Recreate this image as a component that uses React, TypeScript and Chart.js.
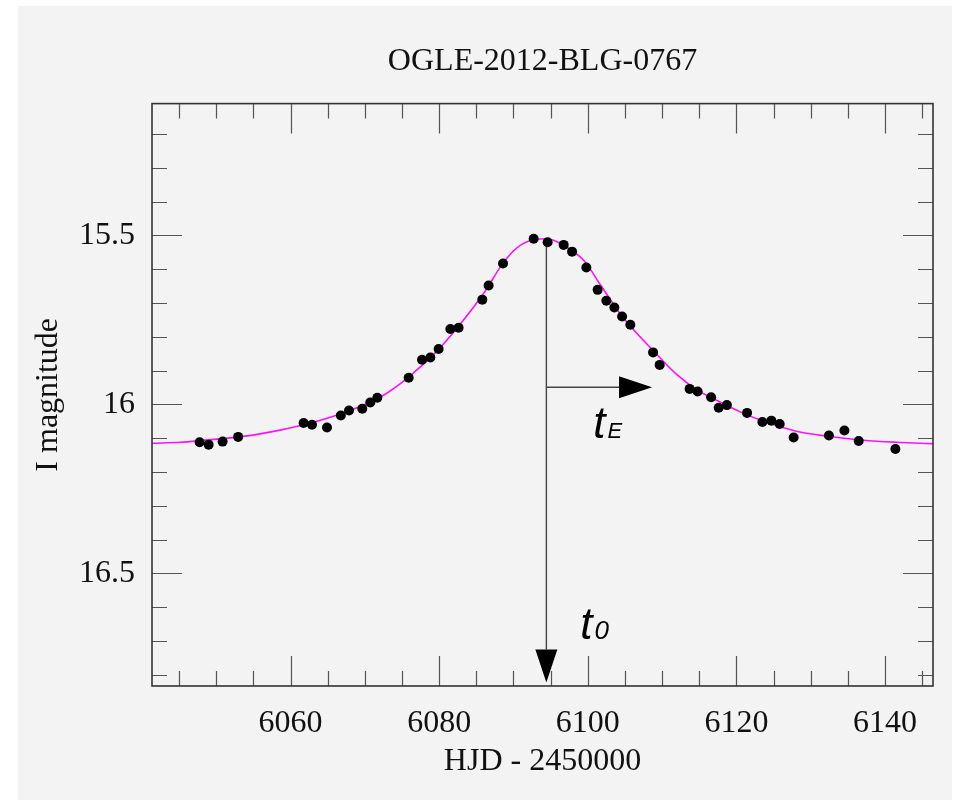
import { useEffect, useRef } from 'react';
import { Chart, registerables } from 'chart.js';

Chart.register(...registerables);

// Texts
const TITLE = 'OGLE-2012-BLG-0767';
const X_TITLE = 'HJD - 2450000';
const Y_TITLE = 'I magnitude';

// Axis ranges and ticks
const X_MIN = 6041.36;
const X_MAX = 6146.46;
const Y_MIN = 15.11;
const Y_MAX = 16.833;
const X_LABEL_TICKS = [6060, 6080, 6100, 6120, 6140];
const Y_LABEL_TICKS = [15.5, 16, 16.5];
const X_MINOR_STEP = 5;
const X_MAJOR_EVERY = 4; // every 4th minor tick is a major one (20 days)
const Y_MINOR_STEP = 0.1;
const Y_MAJOR_EVERY = 5; // 0.5 mag

// Photometry
const OBS_HJD = [
  6047.77, 6048.98, 6050.86, 6052.95, 6061.76, 6062.89, 6064.91, 6066.77,
  6067.87, 6069.66, 6070.74, 6071.68, 6075.9, 6077.7, 6078.82, 6079.93,
  6081.51, 6082.62, 6085.81, 6086.66, 6088.6, 6092.72, 6094.6, 6096.76,
  6097.89, 6099.81, 6101.33, 6102.5, 6103.58, 6104.62, 6105.73, 6108.79,
  6109.68, 6113.71, 6114.79, 6116.6, 6117.62, 6118.72, 6121.44, 6123.5,
  6124.71, 6125.83, 6127.71, 6132.45, 6134.54, 6136.46, 6141.4,
];
const OBS_MAG = [
  16.112, 16.119, 16.11, 16.096, 16.055, 16.06, 16.068, 16.033,
  16.018, 16.013, 15.994, 15.98, 15.921, 15.868, 15.861, 15.836,
  15.777, 15.773, 15.69, 15.648, 15.583, 15.51, 15.52, 15.528,
  15.548, 15.595, 15.661, 15.693, 15.713, 15.74, 15.764, 15.846,
  15.883, 15.954, 15.962, 15.979, 16.01, 16.002, 16.025, 16.052,
  16.048, 16.058, 16.098, 16.092, 16.077, 16.108, 16.132,
];

// Model light curve
const MODEL_HJD = [
  6041.36, 6045.2, 6047.9, 6054.2, 6058.6, 6063.1, 6067.5, 6072.1,
  6075.9, 6079.9, 6082.6, 6086.0, 6088.6, 6090.5, 6092.7, 6094.5,
  6096.8, 6099.5, 6101.7, 6104.4, 6108.9, 6112.0, 6114.7, 6117.9,
  6120.5, 6123.7, 6128.2, 6132.7, 6137.1, 6141.6, 6146.46,
];
const MODEL_MAG = [
  16.115, 16.112, 16.107, 16.093, 16.076, 16.053, 16.022, 15.978,
  15.919, 15.838, 15.769, 15.671, 15.582, 15.536, 15.513, 15.51,
  15.53, 15.575, 15.646, 15.733, 15.843, 15.912, 15.957, 15.994,
  16.022, 16.05, 16.08, 16.095, 16.106, 16.112, 16.116,
];

// Event parameters shown by the arrows
const T0 = 6094.43;
const TE = 14.22;
const PEAK_MAG = 15.513;
const T0_ARROW_END_MAG = 16.823;
const TE_ARROW_MAG = 15.949;
const TE_LABEL_AT = { x: 6100.75, y: 16.098 };
const T0_LABEL_AT = { x: 6099.0, y: 16.695 };

const SERIF = '"Liberation Serif", "Times New Roman", serif';
const SANS = '"Liberation Sans", Arial, sans-serif';

// Title centred over the plot box
const plotTitle = {
  id: 'plotTitle',
  afterDraw(chart: any) {
    const { ctx, chartArea: a } = chart;
    ctx.save();
    ctx.fillStyle = '#111';
    ctx.font = `32px ${SERIF}`;
    ctx.textAlign = 'center';
    ctx.textBaseline = 'middle';
    ctx.fillText(TITLE, (a.left + a.right) / 2, 62);
    ctx.restore();
  },
};

const frameAndTicks = {
  id: 'frameAndTicks',
  afterDatasetsDraw(chart: any) {
    const { ctx, chartArea: a, scales } = chart;
    const xs = scales.x;
    const ys = scales.y;
    ctx.save();
    ctx.strokeStyle = '#555';
    ctx.lineWidth = 1.2;
    ctx.beginPath();
    const kx0 = Math.ceil(X_MIN / X_MINOR_STEP - 1e-9);
    const kx1 = Math.floor(X_MAX / X_MINOR_STEP + 1e-9);
    for (let k = kx0; k <= kx1; k++) {
      const px = Math.round(xs.getPixelForValue(k * X_MINOR_STEP)) + 0.5;
      const len = k % X_MAJOR_EVERY === 0 ? 30 : 15;
      ctx.moveTo(px, a.bottom);
      ctx.lineTo(px, a.bottom - len);
      ctx.moveTo(px, a.top);
      ctx.lineTo(px, a.top + len);
    }
    const ky0 = Math.ceil(Y_MIN / Y_MINOR_STEP - 1e-6);
    const ky1 = Math.floor(Y_MAX / Y_MINOR_STEP + 1e-6);
    for (let k = ky0; k <= ky1; k++) {
      const py = Math.round(ys.getPixelForValue(k * Y_MINOR_STEP)) + 0.5;
      const len = k % Y_MAJOR_EVERY === 0 ? 30 : 15;
      ctx.moveTo(a.left, py);
      ctx.lineTo(a.left + len, py);
      ctx.moveTo(a.right, py);
      ctx.lineTo(a.right - len, py);
    }
    ctx.stroke();
    ctx.strokeStyle = '#333';
    ctx.lineWidth = 1.6;
    ctx.strokeRect(a.left, a.top, a.right - a.left, a.bottom - a.top);
    ctx.restore();
  },
};

const eventArrows = {
  id: 'eventArrows',
  beforeDatasetsDraw(chart: any) {
    const { ctx, scales } = chart;
    const xs = scales.x;
    const ys = scales.y;
    const x0 = xs.getPixelForValue(T0);
    const yTop = ys.getPixelForValue(PEAK_MAG);
    const yTip = ys.getPixelForValue(T0_ARROW_END_MAG);
    const yE = ys.getPixelForValue(TE_ARROW_MAG);
    const xTip = xs.getPixelForValue(T0 + TE);
    const headLen = 33;
    const headHalf = 11;
    ctx.save();
    ctx.strokeStyle = '#444';
    ctx.lineWidth = 1.4;
    ctx.beginPath();
    ctx.moveTo(x0, yTop);
    ctx.lineTo(x0, yTip - headLen);
    ctx.moveTo(x0, yE);
    ctx.lineTo(xTip - headLen, yE);
    ctx.stroke();
    ctx.fillStyle = '#000';
    ctx.beginPath();
    ctx.moveTo(x0, yTip);
    ctx.lineTo(x0 - headHalf, yTip - headLen);
    ctx.lineTo(x0 + headHalf, yTip - headLen);
    ctx.closePath();
    ctx.fill();
    ctx.beginPath();
    ctx.moveTo(xTip, yE);
    ctx.lineTo(xTip - headLen, yE - headHalf);
    ctx.lineTo(xTip - headLen, yE + headHalf);
    ctx.closePath();
    ctx.fill();

    const drawSub = (at: { x: number; y: number }, main: string, sub: string, subSize: number) => {
      const px = xs.getPixelForValue(at.x);
      const py = ys.getPixelForValue(at.y);
      ctx.textBaseline = 'alphabetic';
      ctx.textAlign = 'left';
      ctx.font = `italic 44px ${SANS}`;
      ctx.fillText(main, px, py);
      const w = ctx.measureText(main).width;
      ctx.font = `italic ${subSize}px ${SANS}`;
      ctx.fillText(sub, px + w + 2, py);
    };
    drawSub(TE_LABEL_AT, 't', 'E', 22);
    drawSub(T0_LABEL_AT, 't', '0', 26);
    ctx.restore();
  },
};

export default function App() {
  const canvasRef = useRef<HTMLCanvasElement | null>(null);

  useEffect(() => {
    const canvas = canvasRef.current;
    if (!canvas) return;
    const chart = new Chart(canvas, {
      type: 'scatter',
      data: {
        datasets: [
          {
            label: 'OGLE I',
            data: OBS_HJD.map((x, i) => ({ x, y: OBS_MAG[i] })),
            backgroundColor: '#000',
            borderWidth: 0,
            pointRadius: 5,
            pointHoverRadius: 5,
            order: 0,
          },
          {
            label: 'model',
            data: MODEL_HJD.map((x, i) => ({ x, y: MODEL_MAG[i] })),
            showLine: true,
            borderColor: '#ff11ff',
            borderWidth: 1.6,
            pointRadius: 0,
            cubicInterpolationMode: 'monotone',
            order: 1,
          } as any,
        ],
      },
      options: {
        responsive: false,
        animation: false,
        devicePixelRatio: 1,
        layout: { padding: { left: 0, right: 23, top: 103.6, bottom: 0 } },
        plugins: {
          legend: { display: false },
          tooltip: { enabled: false },
          title: { display: false },
        },
        scales: {
          x: {
            type: 'linear',
            min: X_MIN,
            max: X_MAX,
            afterBuildTicks: (scale: any) => {
              scale.ticks = X_LABEL_TICKS.map((value) => ({ value }));
            },
            afterFit: (scale: any) => {
              scale.height = 114;
            },
            grid: { display: false, drawTicks: false },
            border: { display: false },
            ticks: {
              color: '#111',
              padding: 18,
              maxRotation: 0,
              autoSkip: false,
              font: { family: SERIF, size: 32 },
              callback: (v: any) => String(v),
            },
            title: {
              display: true,
              text: X_TITLE,
              color: '#111',
              font: { family: SERIF, size: 32, lineHeight: 1.2 },
              padding: { top: 0, bottom: 19 },
            },
          },
          y: {
            type: 'linear',
            reverse: true,
            min: Y_MIN,
            max: Y_MAX,
            afterBuildTicks: (scale: any) => {
              scale.ticks = Y_LABEL_TICKS.map((value) => ({ value }));
            },
            afterFit: (scale: any) => {
              scale.width = 152;
            },
            grid: { display: false, drawTicks: false },
            border: { display: false },
            ticks: {
              color: '#111',
              padding: 17,
              autoSkip: false,
              font: { family: SERIF, size: 32 },
              callback: (v: any) => String(v),
            },
            title: {
              display: true,
              text: Y_TITLE,
              color: '#111',
              font: { family: SERIF, size: 32, lineHeight: 1.2 },
              padding: { top: 29, bottom: 0 },
            },
          },
        },
      },
      plugins: [eventArrows, frameAndTicks, plotTitle],
    });
    return () => chart.destroy();
  }, []);

  return (
    <div style={{ position: 'absolute', left: 0, top: 0, width: 956, height: 800, background: '#ffffff' }}>
      <div style={{ position: 'absolute', left: 18, top: 6, width: 934, height: 794, background: '#f3f3f3' }} />
      <canvas
        ref={canvasRef}
        width={956}
        height={800}
        style={{ position: 'absolute', left: 0, top: 0, width: 956, height: 800 }}
      />
    </div>
  );
}
